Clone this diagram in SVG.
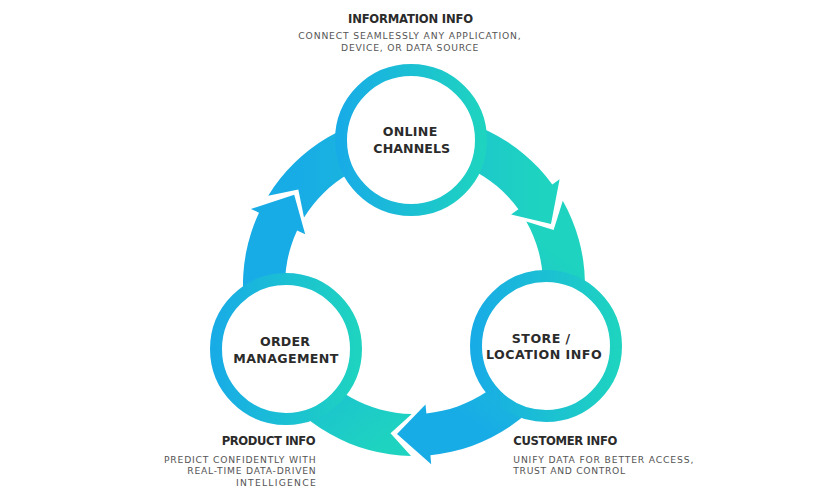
<svg xmlns="http://www.w3.org/2000/svg" width="836" height="501" viewBox="0 0 836 501">
<defs>
<linearGradient id="gA" gradientUnits="userSpaceOnUse" x1="300" y1="0" x2="540" y2="0">
<stop offset="0" stop-color="#18ACE6"/><stop offset="1" stop-color="#1ED3C0"/>
</linearGradient>
<linearGradient id="gB" gradientUnits="userSpaceOnUse" x1="580" y1="270" x2="470" y2="420">
<stop offset="0" stop-color="#1ED3C0"/><stop offset="1" stop-color="#18ACE6"/>
</linearGradient>
<linearGradient id="gC" gradientUnits="userSpaceOnUse" x1="390" y1="440" x2="270" y2="280">
<stop offset="0" stop-color="#1ED3C0"/><stop offset="1" stop-color="#18ACE6"/>
</linearGradient>
<linearGradient id="gRing" x1="0" y1="0" x2="1" y2="0">
<stop offset="0" stop-color="#18ACE6"/><stop offset="1" stop-color="#1ED3C0"/>
</linearGradient>
</defs>
<style>
.ring{fill:#fff;stroke:url(#gRing);stroke-width:12}
.lbl{font-family:"DejaVu Sans","Liberation Sans",sans-serif;font-weight:700;font-size:12.6px;fill:#2b2b2b;text-anchor:middle}
.hd{font-family:"DejaVu Sans","Liberation Sans",sans-serif;font-weight:700;font-size:11.6px;fill:#2b2b2b}
.ds{font-family:"DejaVu Sans","Liberation Sans",sans-serif;font-weight:400;font-size:9.2px;fill:#555}
</style>
<rect width="836" height="501" fill="#fff"/>
<g id="connectors">
<path id="arrowA" fill="url(#gA)" d="M268.2,195.7 A171,171 0 0 1 552.3,184.5 L559.6,179.2 L551.0,224.0 L511.1,214.5 L518.4,209.2 A129,129 0 0 0 304.0,217.6 L298.3,189.6 Z"/>
<path id="arrowB" fill="url(#gB)" d="M562.8,200.8 A171,171 0 0 1 430.4,455.2 L431.2,464.2 L397.0,434.0 L425.5,404.4 L426.4,413.4 A129,129 0 0 0 526.3,221.5 L553.6,230.0 Z"/>
<path id="arrowC" fill="url(#gC)" d="M411.0,456.0 A171,171 0 0 1 259.0,212.7 L250.9,208.9 L294.2,194.7 L305.2,234.3 L297.1,230.5 A129,129 0 0 0 411.75,414.0 L390.5,433.2 Z"/>
</g>
<g id="online">
<circle class="ring" cx="411" cy="140" r="70"/>
<text class="lbl" x="410" y="136" textLength="54.6" lengthAdjust="spacing">ONLINE</text>
<text class="lbl" x="411.7" y="152.7" textLength="76.7" lengthAdjust="spacing">CHANNELS</text>
</g>
<g id="order">
<circle class="ring" cx="286" cy="349" r="70"/>
<text class="lbl" x="285" y="346" textLength="50" lengthAdjust="spacing">ORDER</text>
<text class="lbl" x="285.8" y="362.7" textLength="105" lengthAdjust="spacing">MANAGEMENT</text>
</g>
<g id="store">
<circle class="ring" cx="546" cy="346" r="70"/>
<text class="lbl" x="541" y="342.7" textLength="58.3" lengthAdjust="spacing">STORE /</text>
<text class="lbl" x="543.8" y="359.3" textLength="115.7" lengthAdjust="spacing">LOCATION INFO</text>
</g>
<g id="information-info">
<text class="hd" x="410.5" y="23.3" text-anchor="middle" textLength="125" lengthAdjust="spacing">INFORMATION INFO</text>
<text class="ds" x="409.5" y="39.3" text-anchor="middle" textLength="222.4" lengthAdjust="spacing">CONNECT SEAMLESSLY ANY APPLICATION,</text>
<text class="ds" x="409.7" y="50.7" text-anchor="middle" textLength="137.3" lengthAdjust="spacing">DEVICE, OR DATA SOURCE</text>
</g>
<g id="product-info">
<text class="hd" x="315.7" y="445" text-anchor="end" textLength="94" lengthAdjust="spacing">PRODUCT INFO</text>
<text class="ds" x="315.7" y="462.5" text-anchor="end" textLength="151.7" lengthAdjust="spacing">PREDICT CONFIDENTLY WITH</text>
<text class="ds" x="315.7" y="474" text-anchor="end" textLength="128.4" lengthAdjust="spacing">REAL-TIME DATA-DRIVEN</text>
<text class="ds" x="315.7" y="485.5" text-anchor="end" textLength="79.7" lengthAdjust="spacing">INTELLIGENCE</text>
</g>
<g id="customer-info">
<text class="hd" x="513.3" y="445" textLength="104" lengthAdjust="spacing">CUSTOMER INFO</text>
<text class="ds" x="513.3" y="462.5" textLength="180" lengthAdjust="spacing">UNIFY DATA FOR BETTER ACCESS,</text>
<text class="ds" x="513.3" y="474" textLength="111.7" lengthAdjust="spacing">TRUST AND CONTROL</text>
</g>
</svg>
